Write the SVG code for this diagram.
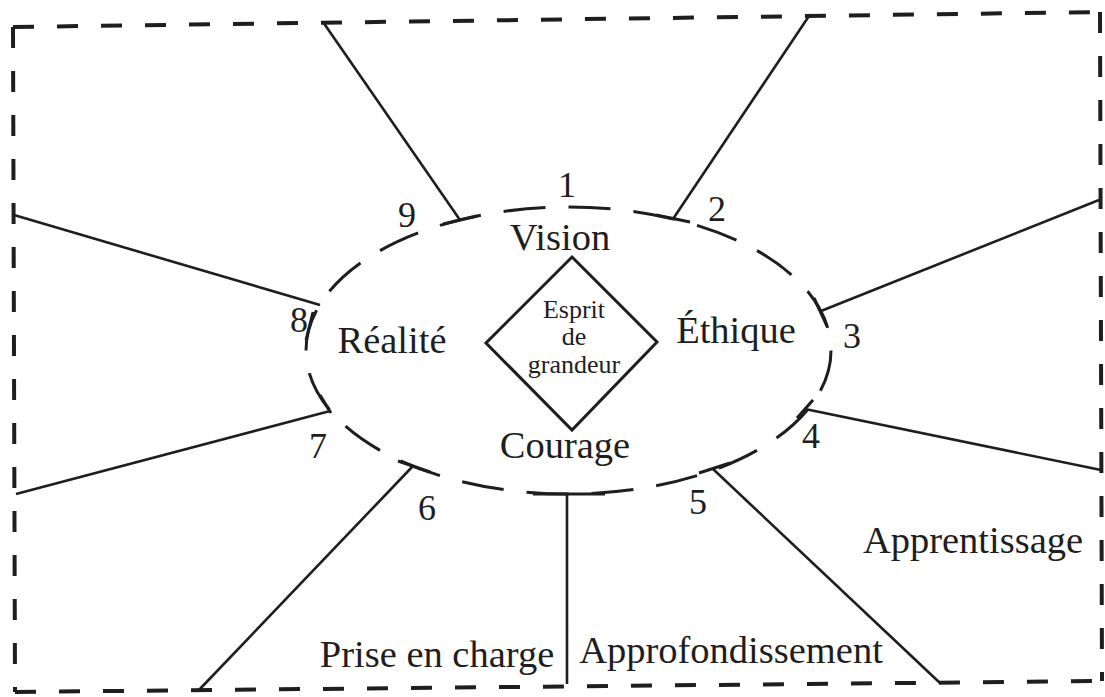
<svg xmlns="http://www.w3.org/2000/svg" width="1105" height="697" viewBox="0 0 1105 697">
<style>
.txt{font-family:"Liberation Serif","Times New Roman",serif;fill:#1e1e1e;text-anchor:middle}
.big{font-size:38.5px}
.num{font-size:36px}
.small{font-size:26px}
.line{stroke:#1e1e1e;stroke-width:2.6;fill:none;stroke-linecap:butt}
.tick{stroke:#1e1e1e;stroke-width:3;fill:none}
.border{stroke:#1e1e1e;stroke-width:4;fill:none;stroke-dasharray:21 23}
.ring{stroke:#1e1e1e;stroke-width:3;fill:none;stroke-dasharray:42 23}
</style>
<rect width="1105" height="697" fill="#ffffff"/>
<g id="frame">
<path class="border" d="M13,27 L1100,12"/>
<path class="border" d="M13,27 L15,692"/>
<path class="border" d="M15,692 L1102,681"/>
<path class="border" d="M1100,12 L1102,681"/>
</g>
<g id="ring">
<ellipse class="ring" cx="568.5" cy="350.5" rx="262.5" ry="143.5" pathLength="1300"/>
</g>
<g id="core">
<polygon points="572,257 657,342 572,430 486,343" fill="none" stroke="#1e1e1e" stroke-width="3"/>
<text class="txt small" x="574" y="318">Esprit</text>
<text class="txt small" x="574" y="345">de</text>
<text class="txt small" x="574" y="373">grandeur</text>
</g>
<g id="connectors">
<line class="line" x1="323" y1="22" x2="460" y2="220"/>
<line class="line" x1="809" y1="16" x2="673" y2="219"/>
<line class="line" x1="1099" y1="200" x2="821" y2="311"/>
<line class="line" x1="1101" y1="470" x2="805" y2="409"/>
<line class="line" x1="940" y1="683" x2="713" y2="469"/>
<line class="line" x1="567" y1="684" x2="567" y2="494"/>
<line class="line" x1="198" y1="691" x2="413" y2="466"/>
<line class="line" x1="16" y1="494" x2="330" y2="411"/>
<line class="line" x1="14" y1="215" x2="320" y2="305"/>
<line class="tick" x1="443" y1="224" x2="477" y2="216"/>
<line class="tick" x1="656" y1="215" x2="690" y2="222"/>
<line class="tick" x1="814" y1="298" x2="827" y2="326"/>
<line class="tick" x1="797" y1="418" x2="813" y2="400"/>
<line class="tick" x1="699" y1="473" x2="730" y2="463"/>
<line class="tick" x1="533" y1="494" x2="605" y2="494"/>
<line class="tick" x1="398" y1="461" x2="430" y2="472"/>
<line class="tick" x1="320" y1="395" x2="331" y2="413"/>
<line class="tick" x1="313" y1="312" x2="306" y2="340"/>
</g>
<g id="labels">
<text class="txt big" x="560" y="250">Vision</text>
<text class="txt big" x="392" y="353">Réalité</text>
<text class="txt big" x="736" y="343">Éthique</text>
<text class="txt big" x="565" y="458">Courage</text>
<text class="txt big" x="973" y="553">Apprentissage</text>
<text class="txt big" x="437" y="667">Prise en charge</text>
<text class="txt big" x="731" y="663">Approfondissement</text>
</g>
<g id="numbers">
<text class="txt num" x="567" y="197">1</text>
<text class="txt num" x="717" y="221">2</text>
<text class="txt num" x="852" y="348">3</text>
<text class="txt num" x="811" y="448">4</text>
<text class="txt num" x="698" y="514">5</text>
<text class="txt num" x="427" y="520">6</text>
<text class="txt num" x="318" y="458">7</text>
<text class="txt num" x="299" y="332">8</text>
<text class="txt num" x="407" y="227">9</text>
</g>
</svg>
